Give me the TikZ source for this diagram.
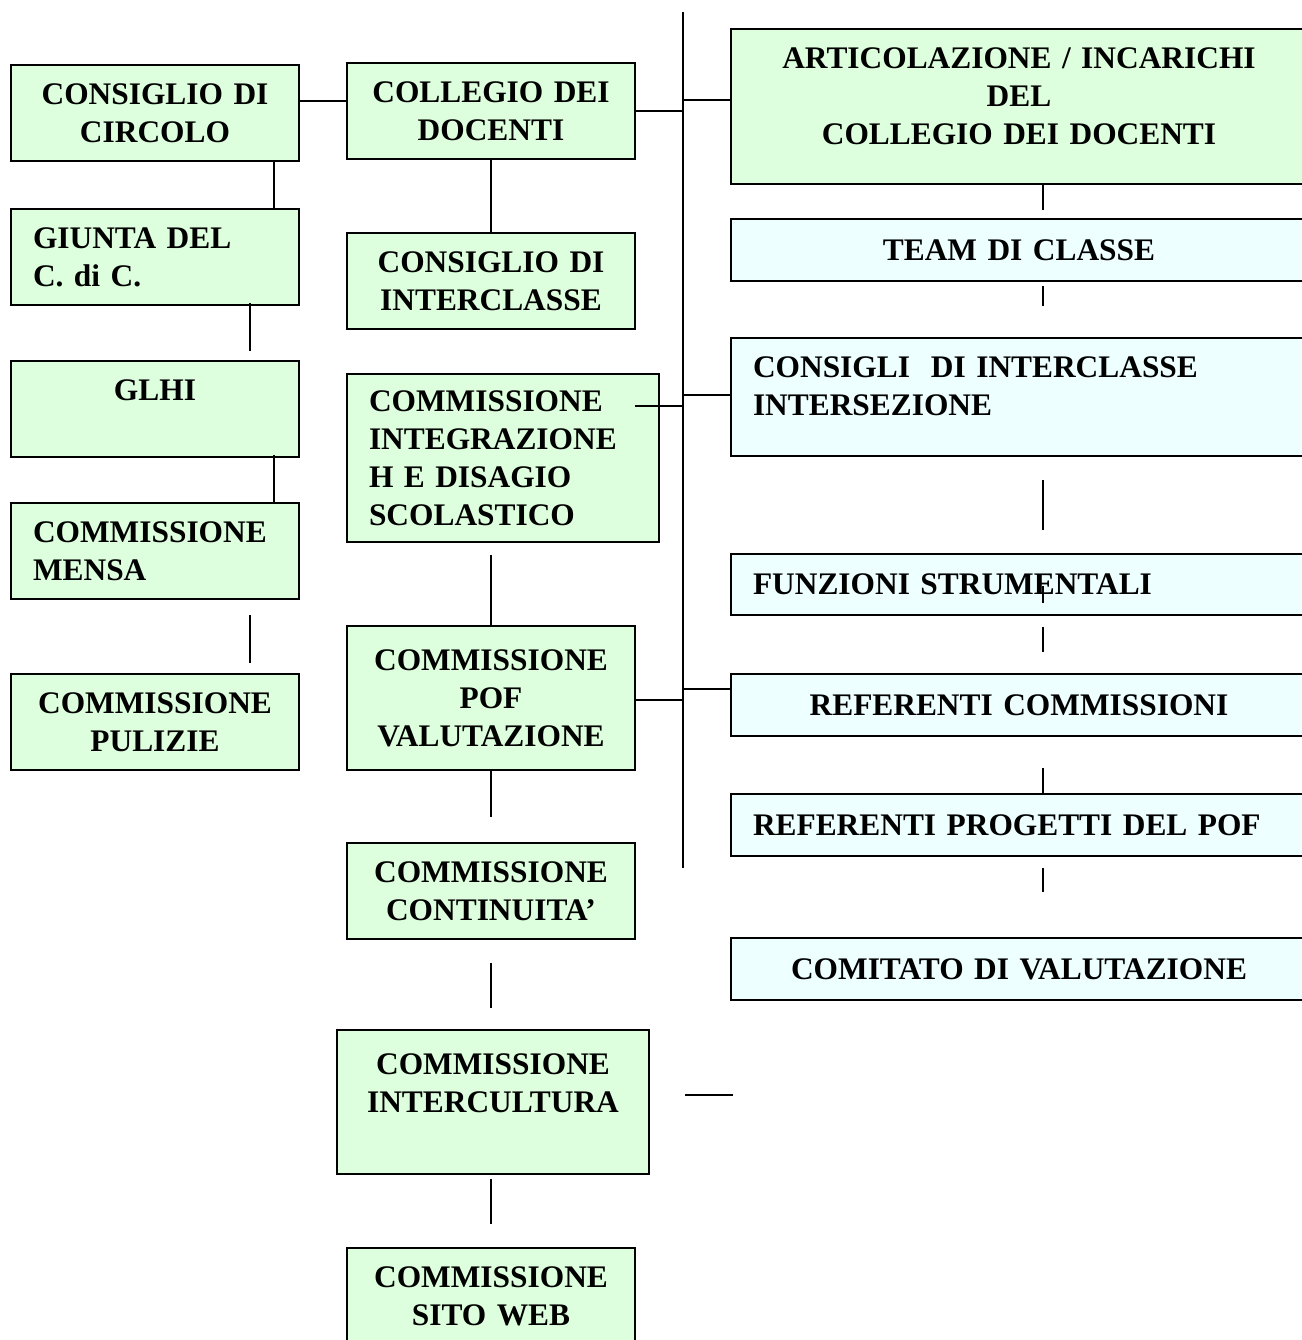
\documentclass[tikz,border=0pt]{standalone}
\usepackage{fontspec}
\setmainfont{Liberation Serif}
\definecolor{boxgreen}{HTML}{DDFFDD}
\definecolor{boxcyan}{HTML}{EEFFFF}

\begin{document}
\begin{tikzpicture}[x=0.5pt,y=-0.5pt,
       every node/.style={font=\fontsize{15.7pt}{19pt}\selectfont\bfseries},
       organo/.style={draw,line width=1pt,anchor=north west,inner xsep=11pt,inner ysep=0pt,align=center},
       verde/.style={organo,fill=boxgreen},
       azzurro/.style={organo,fill=boxcyan},
       stretto/.style={text width=122pt},
       largo/.style={text width=134pt},
       lunghissimo/.style={text width=266pt},
       linea/.style={line width=0.75pt}]
       \useasboundingbox (0,0) rectangle (1302,1340);
       \clip (0,0) rectangle (1302,1340);
       % colonna sinistra
       \node[verde,stretto,minimum height=48pt] (cdc) at (10,64) {CONSIGLIO DI\\CIRCOLO};
       \node[verde,stretto,minimum height=48pt,align=left] (giunta) at (10,208) {GIUNTA DEL\\C. di C.};
       \node[verde,stretto,minimum height=48pt] (glhi) at (10,360) {GLHI\\\mbox{}};
       \node[verde,stretto,minimum height=48pt,align=left] (mensa) at (10,502) {COMMISSIONE\\MENSA};
       \node[verde,stretto,minimum height=48pt] (pulizie) at (10,673) {COMMISSIONE\\PULIZIE};
       % colonna centrale
       \node[verde,stretto,minimum height=48pt] (collegio) at (346,62) {COLLEGIO DEI\\DOCENTI};
       \node[verde,stretto,minimum height=48pt] (interclasse) at (346,232) {CONSIGLIO DI\\INTERCLASSE};
       \node[verde,largo,minimum height=84pt,align=left] (integrazione) at (346,373) {COMMISSIONE\\INTEGRAZIONE\\H E DISAGIO\\SCOLASTICO};
       \node[verde,stretto,minimum height=72pt] (pof) at (346,625) {COMMISSIONE\\POF\\VALUTAZIONE};
       \node[verde,stretto,minimum height=48pt] (continuita) at (346,842) {COMMISSIONE\\CONTINUITA’};
       \node[verde,largo,minimum height=72pt] (intercultura) at (336,1029) {COMMISSIONE\\INTERCULTURA\\\mbox{}};
       \node[verde,stretto,minimum height=48pt] (sitoweb) at (346,1247) {COMMISSIONE\\SITO WEB};
       % colonna destra
       \node[verde,lunghissimo,minimum height=77.5pt] (articolazione) at (730,28) {ARTICOLAZIONE / INCARICHI\\DEL\\COLLEGIO DEI DOCENTI\\[-9pt]\mbox{}};
       \node[azzurro,lunghissimo,minimum height=31pt] (team) at (730,218) {TEAM DI CLASSE};
       \node[azzurro,lunghissimo,minimum height=59pt,align=left] (consigli) at (730,337) {CONSIGLI\ \ DI INTERCLASSE\\INTERSEZIONE\\[-8.5pt]\mbox{}};
       \node[azzurro,lunghissimo,minimum height=30.5pt,align=left] (funzioni) at (730,553) {FUNZIONI STRUMENTALI};
       \node[azzurro,lunghissimo,minimum height=31pt] (refcomm) at (730,673) {REFERENTI COMMISSIONI};
       \node[azzurro,lunghissimo,minimum height=31pt,align=left] (refprog) at (730,793) {REFERENTI PROGETTI DEL POF};
       \node[azzurro,lunghissimo,minimum height=31pt] (comitato) at (730,937) {COMITATO DI VALUTAZIONE};
       \coordinate (dorsotop) at (683,12);
       \coordinate (dorsobot) at (683,868);
       \draw[linea] (dorsotop) -- (dorsobot);
       \draw[linea] (cdc.east |- 0,101) -- (collegio.west |- 0,101);
       \draw[linea] (collegio.east |- 0,111) -- (dorsotop |- 0,111);
       \draw[linea] (dorsotop |- 0,100) -- (articolazione.west |- 0,100);
       \draw[linea] (cdc.south -| 274,0) -- (giunta.north -| 274,0);
       \draw[linea] (giunta.south -| 250,0) ++(0,-3) -- ++(0,48);
       \draw[linea] (glhi.south -| 274,0) ++(0,-3) -- (mensa.north -| 274,0);
       \draw[linea] (mensa.south -| 250,0) ++(0,15) -- ++(0,48);
       \draw[linea] (collegio.south) -- (interclasse.north);
       \draw[linea] (integrazione.north west) ++(289,33) -- (dorsotop |- 0,406);
       \draw[linea] (dorsotop |- 0,395) -- (consigli.west |- 0,395);
       \draw[linea] (integrazione.south -| pof.north) ++(0,12) -- (pof.north);
       \draw[linea] (pof.east |- 0,700) -- (dorsotop |- 0,700);
       \draw[linea] (dorsotop |- 0,689) -- (refcomm.west |- 0,689);
       \draw[linea] (pof.south) -- ++(0,46);
       \draw[linea] (continuita.south) ++(0,23) -- ++(0,45);
       \draw[linea] (intercultura.east) ++(35,-7) -- ++(48,0);
       \draw[linea] (intercultura.south -| sitoweb.north) ++(0,4) -- ++(0,45);
       \draw[linea] (articolazione.south -| 1043,0) -- ++(0,25);
       \draw[linea] (team.south -| 1043,0) ++(0,4) -- ++(0,20);
       \draw[linea] (consigli.south -| 1043,0) ++(0,23) -- ++(0,50);
       \draw[linea] (funzioni.north -| 1043,0) ++(0,33) -- ++(0,17);
       \draw[linea] (funzioni.south -| 1043,0) ++(0,11) -- ++(0,25);
       \draw[linea] (refprog.north -| 1043,0) ++(0,-25) -- (refprog.north -| 1043,0);
       \draw[linea] (refprog.south -| 1043,0) ++(0,11) -- ++(0,24);
\end{tikzpicture}
\end{document}
